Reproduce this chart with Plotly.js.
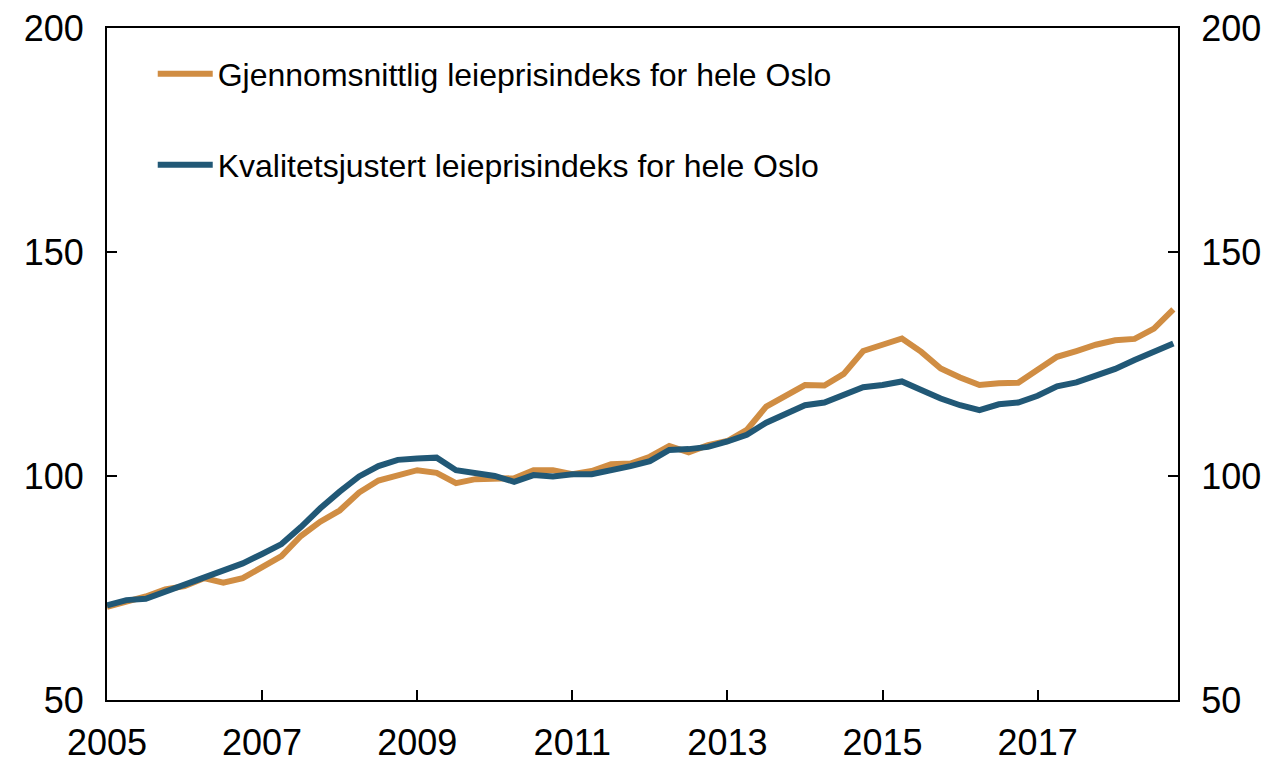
<!DOCTYPE html>
<html>
<head>
<meta charset="utf-8">
<script src="https://cdn.plot.ly/plotly-3.0.1.min.js"></script>
<style>html,body{margin:0;padding:0;background:#fff;}#chart{width:1278px;height:762px;}</style>
</head>
<body>
<div id="chart"></div>
<script>
// Quarterly observations, 2005 Q1 .. 2018 Q4
const startYear = 2005;
const nQuarters = 56;
const quarterX = Array.from({length: nQuarters}, (_, i) => startYear + i / 4);

const seriesNames = [
  'Gjennomsnittlig leieprisindeks for hele Oslo',
  'Kvalitetsjustert leieprisindeks for hele Oslo'
];

const gjennomsnittlig = [
  70.8, 72.0, 73.1, 74.7, 75.4, 77.2, 76.2, 77.2, 79.8, 82.1,
  86.6, 89.8, 92.3, 96.3, 99.0, 100.2, 101.3, 100.7, 98.4, 99.3,
  99.5, 99.5, 101.3, 101.3, 100.4, 101.1, 102.6, 102.8, 104.3, 106.7,
  105.3, 106.9, 107.8, 110.3, 115.5, 117.9, 120.3, 120.2, 122.8, 127.9,
  129.2, 130.7, 127.7, 124.0, 122.0, 120.3, 120.7, 120.8, 123.7, 126.6,
  127.9, 129.3, 130.3, 130.6, 132.9, 137.2
];

const kvalitetsjustert = [
  71.1, 72.3, 72.6, 74.2, 75.7, 77.4, 79.0, 80.5, 82.6, 84.8,
  88.6, 92.8, 96.5, 99.9, 102.2, 103.6, 103.9, 104.1, 101.3, 100.6,
  100.0, 98.7, 100.2, 99.9, 100.4, 100.4, 101.2, 102.2, 103.3, 105.8,
  106.0, 106.5, 107.7, 109.2, 111.9, 114.0, 115.8, 116.4, 118.1, 119.8,
  120.3, 121.1, 119.2, 117.3, 115.8, 114.7, 116.0, 116.4, 117.9, 120.0,
  120.9, 122.4, 123.9, 125.9, 127.8, 129.6
];

const yTicks = [50, 100, 150, 200];
const xTicks = [2005, 2007, 2009, 2011, 2013, 2015, 2017];

const colors = ['#D08D43', '#215876'];
const fontFamily = 'Liberation Sans, Arial, sans-serif';

const traces = [
  {
    x: quarterX, y: gjennomsnittlig, name: seriesNames[0],
    type: 'scatter', mode: 'lines',
    line: {color: colors[0], width: 6},
    xaxis: 'x', yaxis: 'y', legend: 'legend'
  },
  {
    x: quarterX, y: kvalitetsjustert, name: seriesNames[1],
    type: 'scatter', mode: 'lines',
    line: {color: colors[1], width: 6},
    xaxis: 'x', yaxis: 'y2', legend: 'legend2'
  }
];

const yCommon = {
  range: [50, 200],
  tickmode: 'array', tickvals: yTicks, ticktext: yTicks.map(String),
  ticks: 'inside', ticklen: 10, tickwidth: 2, tickcolor: '#000',
  showline: true, linecolor: '#000', linewidth: 2,
  showgrid: false, zeroline: false,
  tickfont: {family: fontFamily, size: 36, color: '#000'},
  ticklabelstandoff: 14,
  fixedrange: true
};

const legendCommon = {
  xanchor: 'left', yanchor: 'middle',
  bgcolor: 'rgba(0,0,0,0)', borderwidth: 0,
  itemwidth: 55,
  font: {family: fontFamily, size: 32, color: '#000'}
};

const layout = {
  width: 1278, height: 762,
  margin: {l: 107, r: 100, t: 28, b: 62},
  paper_bgcolor: '#fff', plot_bgcolor: '#fff',
  showlegend: true,
  xaxis: {
    range: [2005, 2018.81],
    tickmode: 'array', tickvals: xTicks, ticktext: xTicks.map(String),
    ticks: 'inside', ticklen: 10, tickwidth: 2, tickcolor: '#000',
    showline: true, mirror: true, linecolor: '#000', linewidth: 2,
    showgrid: false, zeroline: false,
    tickfont: {family: fontFamily, size: 36, color: '#000'},
    ticklabelstandoff: 10
  },
  yaxis: Object.assign({}, yCommon, {side: 'left'}),
  yaxis2: Object.assign({}, yCommon, {side: 'right', overlaying: 'y', anchor: 'x'}),
  legend: Object.assign({}, legendCommon, {x: 0.0427, y: 0.9315}),
  legend2: Object.assign({}, legendCommon, {x: 0.0427, y: 0.7961})
};

Plotly.newPlot('chart', traces, layout, {staticPlot: true, displayModeBar: false});
</script>
</body>
</html>
